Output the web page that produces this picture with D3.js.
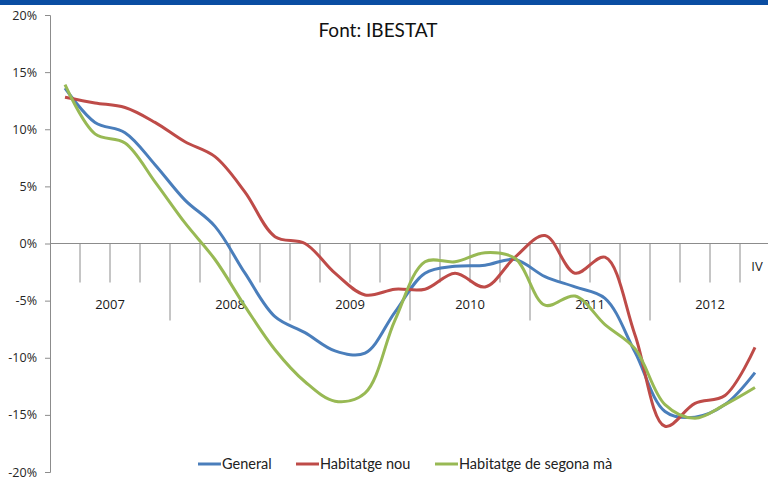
<!DOCTYPE html>
<html lang="ca">
<head>
<meta charset="UTF-8">
<script src="https://cdn.jsdelivr.net/npm/d3@7"></script>
<title>Habitatge</title>
<style>
	body { margin: 0; background: #fff; }
	svg { display: block; }
	.tick-lab { font-family: "Open Sans", sans-serif; font-size: 12.5px; fill: #262626; }
	.cat-lab { font-family: "Open Sans", sans-serif; font-size: 13px; fill: #1a1a1a; }
	.title { font-family: Lato, sans-serif; font-size: 19px; fill: #111; }
	.legend { font-family: Lato, sans-serif; font-size: 14.5px; fill: #222; }
</style>
</head>
<body>
<script>
// quarterly year-on-year change (%), 2007 Q1 .. 2012 Q4
const years = ["2007", "2008", "2009", "2010", "2011", "2012"];
const quarterLabels = ["", "", "", "", "", "", "", "", "", "", "", "",
	"", "", "", "", "", "", "", "", "", "", "", "IV"];
const yTicks = [-20, -15, -10, -5, 0, 5, 10, 15, 20];

const general = [13.6, 10.6, 9.7, 6.9, 3.8, 1.5, -2.6, -6.4, -7.8, -9.4, -9.6, -6.0,
	-2.6, -2.0, -1.9, -1.4, -2.9, -3.8, -4.8, -9.5, -14.7, -15.2, -14.1, -11.3];
const nou = [12.8, 12.3, 11.9, 10.6, 8.9, 7.6, 4.5, 0.6, 0.0, -2.6, -4.5, -4.0,
	-4.0, -2.6, -3.8, -1.2, 0.7, -2.6, -1.2, -8.0, -16.0, -14.0, -13.3, -9.1];
const segona = [13.9, 9.6, 8.8, 5.4, 1.8, -1.4, -5.5, -9.3, -12.1, -13.8, -13.1, -6.7,
	-1.6, -1.6, -0.8, -1.3, -5.4, -4.6, -7.1, -9.2, -14.1, -15.3, -14.1, -12.6];

const series = [
	{ name: "General", values: general, color: "#4a7ebb" },
	{ name: "Habitatge nou", values: nou, color: "#be4b48" },
	{ name: "Habitatge de segona mà", values: segona, color: "#98b954" }
];

const W = 768, H = 477;
const svg = d3.select("body").append("svg").attr("width", W).attr("height", H);

// top band
svg.append("rect").attr("x", 0).attr("y", 0).attr("width", W).attr("height", 5).attr("fill", "#0a4da2");

const x = d3.scaleLinear().domain([0, quarterLabels.length]).range([50, 770]);
const y = d3.scaleLinear().domain([-20, 20]).range([472, 15]);
const axisCol = "#8c8c8c";

// y axis
const yAxis = svg.append("g").attr("transform", `translate(${x(0)},0)`)
	.call(d3.axisLeft(y).tickValues(yTicks).tickSize(5).tickFormat(d => d + "%"));
yAxis.select(".domain").attr("stroke", axisCol);
yAxis.selectAll(".tick line").attr("stroke", axisCol);
yAxis.selectAll(".tick text").attr("class", "tick-lab").attr("x", -13).attr("font-family", null).attr("font-size", null);

// category axis on the 0% line
const xg = svg.append("g");
xg.append("line").attr("x1", x(0)).attr("x2", W).attr("y1", y(0)).attr("y2", y(0))
	.attr("stroke", axisCol).attr("stroke-width", 1.2);
xg.selectAll("line.q").data(d3.range(1, quarterLabels.length)).join("line")
	.attr("class", "q")
	.attr("x1", d => x(d)).attr("x2", d => x(d))
	.attr("y1", y(0)).attr("y2", d => d % 4 === 0 ? y(0) + 77 : y(0) + 39)
	.attr("stroke", axisCol);
xg.selectAll("text.year").data(years).join("text")
	.attr("class", "cat-lab")
	.attr("x", (d, i) => x(i * 4 + 2)).attr("y", y(0) + 62)
	.attr("text-anchor", "middle").attr("dominant-baseline", "middle")
	.text(d => d);
xg.selectAll("text.qlab").data(quarterLabels).join("text")
	.attr("class", "cat-lab")
	.attr("x", (d, i) => x(i + 0.5) + 2).attr("y", y(0) + 24)
	.attr("text-anchor", "middle").attr("dominant-baseline", "middle")
	.text(d => d);

// lines
const line = d3.line()
	.x((d, i) => x(i + 0.5))
	.y(d => y(d))
	.curve(d3.curveCatmullRom.alpha(0.5));
svg.selectAll("path.series").data(series).join("path")
	.attr("class", "series")
	.attr("d", d => line(d.values))
	.attr("fill", "none")
	.attr("stroke", d => d.color)
	.attr("stroke-width", 3)
	.attr("stroke-linejoin", "round");

// title
svg.append("text").attr("class", "title")
	.attr("x", 378).attr("y", 37).attr("text-anchor", "middle")
	.text("Font: IBESTAT");

// legend
const legX = [198, 296, 435];
const leg = svg.selectAll("g.leg").data(series).join("g")
	.attr("class", "leg")
	.attr("transform", (d, i) => `translate(${legX[i]},464)`);
leg.append("line").attr("x1", 0).attr("x2", 23).attr("y1", 0).attr("y2", 0)
	.attr("stroke", d => d.color).attr("stroke-width", 3);
leg.append("text").attr("class", "legend").attr("x", 24).attr("y", 5).text(d => d.name);
</script>
</body>
</html>
